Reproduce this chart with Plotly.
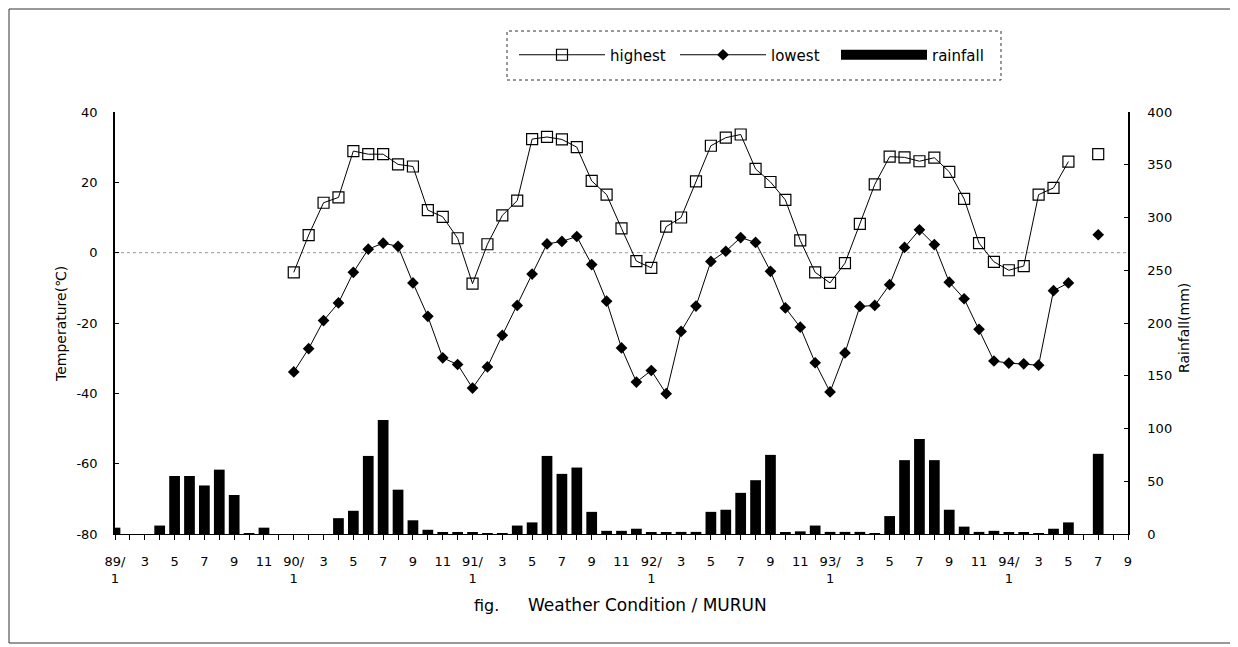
import plotly.graph_objects as go

# ---- data -------------------------------------------------------------
years = ["89", "90", "91", "92", "93", "94"]
months = [f"{y}/{m}" for y in years for m in range(1, 13)][:69]   # 89/1 .. 94/9

tick_labels = []
for lab in months:
    y, m = lab.split("/")
    m = int(m)
    if m == 1:
        tick_labels.append(f"{y}/<br>1")
    elif m % 2 == 1:
        tick_labels.append(str(m))
    else:
        tick_labels.append("")

temp_ticks = [-80, -60, -40, -20, 0, 20, 40]
temp_tick_labels = ["-80", "-60", "-40", "-20", "0", "20", "40"]
rain_ticks = [0, 50, 100, 150, 200, 250, 300, 350, 400]

highest = [None] * 12 + [
    -5.6, 5.0, 14.2, 15.7, 28.9, 28.0, 28.0, 25.1, 24.5, 12.1, 10.2, 4.1,      # 1990
    -8.8, 2.4, 10.6, 14.8, 32.3, 32.9, 32.2, 30.0, 20.4, 16.5, 6.9, -2.4,      # 1991
    -4.3, 7.4, 10.0, 20.3, 30.4, 32.7, 33.6, 23.8, 20.1, 15.0, 3.5, -5.6,      # 1992
    -8.6, -3.0, 8.2, 19.4, 27.3, 27.1, 26.0, 27.0, 23.0, 15.3, 2.7, -2.6,      # 1993
    -5.0, -3.8, 16.5, 18.4, 25.9, None, 28.0, None, None,                     # 1994
]

lowest = [None] * 12 + [
    -33.9, -27.3, -19.3, -14.3, -5.6, 1.0, 2.7, 1.8, -8.6, -18.1, -29.9, -31.8,
    -38.5, -32.5, -23.5, -15.0, -6.1, 2.5, 3.2, 4.6, -3.4, -13.8, -27.1, -36.8,
    -33.5, -40.1, -22.4, -15.2, -2.5, 0.4, 4.3, 2.9, -5.3, -15.7, -21.2, -31.3,
    -39.6, -28.5, -15.3, -15.0, -9.1, 1.5, 6.5, 2.3, -8.4, -13.1, -21.8, -30.8,
    -31.4, -31.6, -32.0, -10.8, -8.6, None, 5.1, None, None,
]

rainfall = [
    6, 0, 0, 8, 55, 55, 46, 61, 37, 0.5, 6, 0,            # 1989
    0, 0, 0, 15, 22, 74, 108, 42, 13, 4, 1.5, 1,          # 1990
    1.5, 0.5, 0.5, 8, 11, 74, 57, 63, 21, 3, 3, 5,        # 1991
    1, 1.5, 2, 2, 21, 23, 39, 51, 75, 1, 2.5, 8,          # 1992
    2, 2, 2, 0.5, 17, 70, 90, 70, 23, 7, 2, 3,            # 1993
    1, 1, 0.5, 5, 11, 0, 76, 0, 0,                        # 1994
]

# ---- figure -----------------------------------------------------------
FONT = "DejaVu Sans, Liberation Sans, Arial, sans-serif"
OFF = 8                      # default page margin around the plot div
W, H = 1230, 639
L, T = 115 - OFF, 112 - OFF
R, B = W - (1128 - OFF), H - (534 - OFF)
pw, ph = W - L - R, H - T - B


def px_x(x):
    """page pixel -> paper x"""
    return (x - OFF - L) / pw


def px_y(y):
    """page pixel -> paper y"""
    return (H - B - (y - OFF)) / ph


fig = go.Figure()

fig.add_trace(go.Bar(
    x=months, y=rainfall, yaxis="y2", name="rainfall",
    marker=dict(color="black", line=dict(width=0)),
    showlegend=False,
))

fig.add_trace(go.Scatter(
    x=months, y=highest, name="highest", mode="lines+markers",
    line=dict(color="black", width=1),
    marker=dict(symbol="square-open", size=11, color="black", line=dict(width=1.2)),
    connectgaps=False,
))

fig.add_trace(go.Scatter(
    x=months, y=lowest, name="lowest", mode="lines+markers",
    line=dict(color="black", width=1),
    marker=dict(symbol="diamond", size=9, color="black"),
    connectgaps=False,
))

# legend entry for the rainfall bars (wide black block)
fig.add_trace(go.Scatter(
    x=[None], y=[None], name="rainfall", mode="lines",
    line=dict(color="black", width=15), yaxis="y2",
))

shapes = [
    # zero reference line
    dict(type="line", xref="paper", yref="y", x0=0, x1=1, y0=0, y1=0,
         line=dict(color="#999", width=1, dash="dot"), layer="below"),
    # legend box
    dict(type="rect", xref="paper", yref="paper",
         x0=px_x(507), x1=px_x(1001), y0=px_y(80), y1=px_y(31),
         line=dict(color="#333", width=1, dash="dot")),
    # outer frame
    dict(type="rect", xref="paper", yref="paper",
         x0=px_x(9), x1=px_x(1236), y0=px_y(643), y1=px_y(9),
         line=dict(color="#333", width=1)),
]

annotations = [
    dict(text="Temperature(℃)", xref="paper", yref="paper",
         x=px_x(61), y=px_y(324), textangle=-90, showarrow=False,
         font=dict(family=FONT, size=14, color="black"),
         xanchor="center", yanchor="middle"),
    dict(text="Rainfall(mm)", xref="paper", yref="paper",
         x=px_x(1184), y=px_y(328), textangle=-90, showarrow=False,
         font=dict(family=FONT, size=14, color="black"),
         xanchor="center", yanchor="middle"),
    dict(text="fig.", xref="paper", yref="paper",
         x=px_x(472), y=px_y(605), showarrow=False,
         font=dict(family=FONT, size=16, color="black"),
         xanchor="left", yanchor="middle"),
    dict(text="Weather Condition / MURUN", xref="paper", yref="paper",
         x=px_x(526), y=px_y(605), showarrow=False,
         font=dict(family=FONT, size=17, color="black"),
         xanchor="left", yanchor="middle"),
]

fig.update_layout(
    width=W, height=H, autosize=False,
    margin=dict(l=L, r=R, t=T, b=B),
    paper_bgcolor="white", plot_bgcolor="white",
    font=dict(family=FONT, size=13, color="black"),
    bargap=0.28,
    showlegend=True,
    legend=dict(
        orientation="h", x=px_x(514), y=px_y(55), xanchor="left", yanchor="middle",
        itemwidth=86, entrywidth=60, entrywidthmode="pixels",
        bgcolor="rgba(0,0,0,0)", borderwidth=0,
        font=dict(family=FONT, size=15, color="black"),
        itemclick=False, itemdoubleclick=False,
    ),
    xaxis=dict(
        type="category", range=[0, 68],
        tickmode="array", tickvals=months, ticktext=tick_labels,
        ticks="outside", ticklen=5, tickcolor="black", tickwidth=1,
        showline=True, linecolor="black", linewidth=1,
        showgrid=False, zeroline=False, tickangle=0,
        tickfont=dict(family=FONT, size=13, color="black"),
        ticklabelstandoff=10,
    ),
    yaxis=dict(
        range=[-80, 40], tickmode="array",
        tickvals=temp_ticks, ticktext=temp_tick_labels,
        ticks="inside", ticklen=4, tickcolor="black",
        showline=True, linecolor="black", linewidth=1.5,
        showgrid=False, zeroline=False,
        tickfont=dict(family=FONT, size=13, color="black"),
        ticklabelstandoff=13,
    ),
    yaxis2=dict(
        range=[0, 400], tickmode="array", tickvals=rain_ticks,
        overlaying="y", side="right", anchor="x",
        ticks="inside", ticklen=4, tickcolor="black",
        showline=True, linecolor="black", linewidth=1.5,
        showgrid=False, zeroline=False,
        tickfont=dict(family=FONT, size=13, color="black"),
        ticklabelstandoff=15,
    ),
    shapes=shapes,
    annotations=annotations,
)

fig.write_html("out.html")
